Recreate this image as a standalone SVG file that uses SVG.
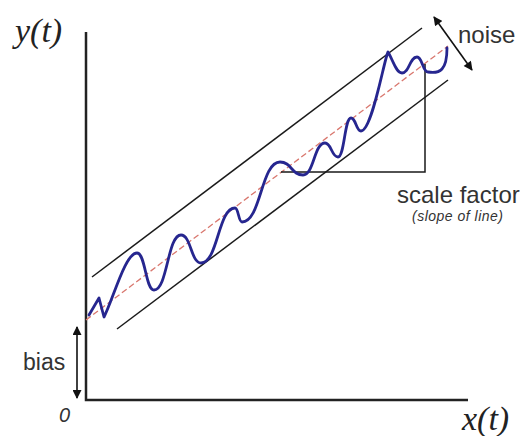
<svg xmlns="http://www.w3.org/2000/svg" width="531" height="436" viewBox="0 0 531 436">
<style>
.axis{stroke:#222;stroke-width:2.5;fill:none}
.band{stroke:#1a1a1a;stroke-width:1.5;fill:none}
.tri{stroke:#1a1a1a;stroke-width:1.5;fill:none}
.center{stroke:#d9776e;stroke-width:1.3;stroke-dasharray:6 3;fill:none}
.wave{stroke:#26268f;stroke-width:2.8;fill:none;stroke-linejoin:round;stroke-linecap:round}
.arr{stroke:#111;stroke-width:1.6;fill:none}
.serif{font-family:"Liberation Serif","Times New Roman",serif;font-style:italic;fill:#222}
.sans{font-family:"Liberation Sans",Arial,sans-serif;fill:#333}
</style>
<defs>
<marker id="ah" viewBox="0 0 10 10" refX="9" refY="5" markerWidth="10" markerHeight="9" markerUnits="userSpaceOnUse" orient="auto-start-reverse">
<path d="M0,0 L10,5 L0,10 z" fill="#111"/>
</marker>
</defs>
<g id="axes">
<path class="axis" d="M86,32 L86,400 L468,400"/>
</g>
<g id="band">
<line class="band" x1="92" y1="277" x2="422" y2="28"/>
<line class="band" x1="117" y1="329" x2="448" y2="80"/>
<line class="center" x1="86" y1="320" x2="448" y2="46"/>
</g>
<g id="slope-triangle">
<path class="tri" d="M281,172 L425,172 L425,64"/>
</g>
<g id="signal">
<path class="wave" d="M89,315 L99,298 L104,317 C113,300 125,253 137,253 C145.5,253 145.5,290 154,290 C167.5,290 167.5,235 181,235 C191,235 191,263 201,263 C218,263 218,208 235,208 C238.5,208 238.5,222 242,222 C261,222 261,162 280,162 C291.5,162 291.5,175 303,175 C314,175 314,143 325,143 C331.5,143 331.5,157 338,157 C344.5,157 344.5,118 351,118 C356,118 356,131 361,131 C372,131 384,60 388,52 C393,60 396,73 402,73 C409.5,73 409.5,57 417,57 C422.5,57 422.5,72 428,72 C440,74 447,70 447,48"/>
</g>
<g id="connectors">
<line class="arr" x1="77" y1="327" x2="77" y2="398" marker-start="url(#ah)" marker-end="url(#ah)"/>
<line class="arr" x1="434" y1="17" x2="472" y2="70" marker-start="url(#ah)" marker-end="url(#ah)"/>
</g>
<g id="labels">
<text class="serif" x="15" y="42" font-size="34">y(t)</text>
<text class="serif" x="462" y="430" font-size="34">x(t)</text>
<text class="sans" x="59" y="422" font-size="20" font-style="italic">0</text>
<text class="sans" x="23" y="370" font-size="23">bias</text>
<text class="sans" x="458" y="43" font-size="24">noise</text>
<text class="sans" x="397" y="203" font-size="24">scale factor</text>
<text class="sans" x="412" y="221" font-size="14" font-style="italic" textLength="91">(slope of line)</text>
</g>
</svg>
